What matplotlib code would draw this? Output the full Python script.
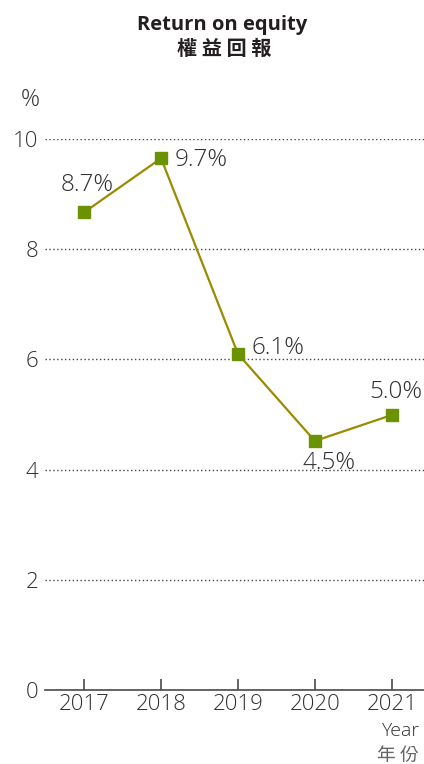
import matplotlib.pyplot as plt

plt.rcParams['font.family'] = ['Open Sans', 'Noto Sans CJK TC', 'DejaVu Sans']
plt.rcParams['font.weight'] = 'light'

years = [2017, 2018, 2019, 2020, 2021]
roe = [8.67, 9.65, 6.1, 4.52, 4.99]
labels = ['8.7%', '9.7%', '6.1%', '4.5%', '5.0%']
yticks = [0, 2, 4, 6, 8, 10]

text_c = '#333031'

fig = plt.figure(figsize=(4.24, 7.64), dpi=100)
ax = fig.add_axes([45 / 424, 1 - 690 / 764, 379 / 424, (690 - 139) / 764])

ax.plot(years, roe, color='#9c8a00', lw=1.6, marker='s', ms=9,
        mfc='#6b9200', mec='#6b9200', clip_on=False, zorder=3)

ax.set_xlim(2016.49, 2021.42)
ax.set_ylim(0, 10)
ax.set_yticks(yticks)
ax.set_xticks(years)
ax.yaxis.grid(True, ls=(0, (1, 1.8)), color='#444444', lw=1.0)
ax.set_axisbelow(True)
for s in ['top', 'right', 'left']:
    ax.spines[s].set_visible(False)
ax.spines['bottom'].set_color('#4a4a4a')
ax.spines['bottom'].set_linewidth(1.2)
ax.tick_params(axis='x', direction='in', length=8, width=1.2, color='#4a4a4a',
               labelsize=16, labelcolor=text_c, pad=3)
ax.tick_params(axis='y', length=0, labelsize=16, labelcolor=text_c, pad=5)

# data labels
offsets = [(2, 11, 'center', 'bottom'), (10, -1, 'left', 'center'),
           (10, 4, 'left', 'center'), (10, -7, 'center', 'top'),
           (3, 8, 'center', 'bottom')]
for x, y, t, (dx, dy, ha, va) in zip(years, roe, labels, offsets):
    ax.annotate(t, (x, y), xytext=(dx, dy), textcoords='offset points',
                ha=ha, va=va, fontsize=17.5, color=text_c)

fig.text(30 / 424, 1 - 100 / 764, '%', ha='center', va='center', fontsize=17, color=text_c)
fig.text(222 / 424, 1 - 25 / 764, 'Return on equity', ha='center', va='center',
         fontsize=14.5, fontweight='bold', color='#231f20')
fig.text(224 / 424, 1 - 48 / 764, '權 益 回 報', ha='center', va='center',
         fontsize=14.5, fontweight='bold', color='#231f20', family='Noto Sans CJK TC')
fig.text(419 / 424, 1 - 731 / 764, 'Year', ha='right', va='center', fontsize=14, color=text_c)
fig.text(419 / 424, 1 - 755 / 764, '年 份', ha='right', va='center', fontsize=13.5,
         color='#666666', family='Noto Sans CJK TC')

fig.savefig('out.png', dpi=100)
